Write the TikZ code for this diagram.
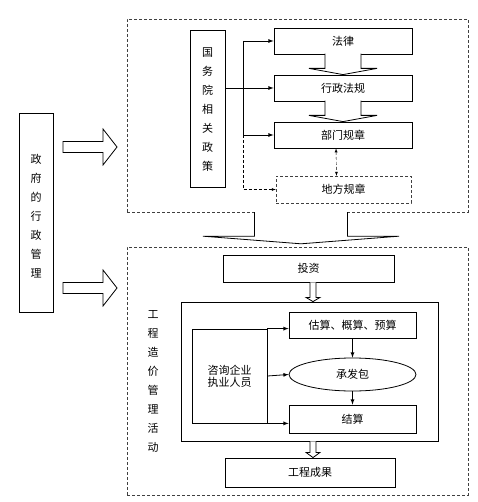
\documentclass[tikz,border=0pt]{standalone}
\usepackage{fontspec}
\newfontfamily\cjk{Noto Sans CJK SC}
\usetikzlibrary{calc,positioning,shapes.geometric,arrows}
\tikzset{>=latex}
\tikzset{
  box/.style={draw, thick, rectangle, inner sep=0pt, font=\cjk\fontsize{11}{12}\selectfont},
  dbox/.style={box, dash pattern=on 3pt off 2pt, thin, draw=black!75},
  vtext/.style={inner sep=0pt, align=center, font=\cjk\fontsize{11}{19}\selectfont},
  hollow/.style={draw, thick, fill=white, line join=miter},
}

\begin{document}
\begin{tikzpicture}[x=1pt, y=-1pt]
  \useasboundingbox (0,0) rectangle (477,502);
  % left column
  \node[box, minimum width=34pt, minimum height=199pt] (gov) at (36,212.5) {};
  \node[vtext] (govtxt) at (36,216) {政\\府\\的\\行\\政\\管\\理};
  % upper block: laws and rules
  \node[dbox, minimum width=341pt, minimum height=193pt] (top) at (297.5,115.5) {};
  \node[box, minimum width=35pt, minimum height=157pt] (gwy) at (207.5,108.5) {};
  \node[vtext] (gwytxt) at (207.5,110) {国\\务\\院\\相\\关\\政\\策};
  \node[box, minimum width=138pt, minimum height=26pt] (law) at (343,41) {法律};
  \node[box, minimum width=138pt, minimum height=26pt] (reg) at (343,88) {行政法规};
  \node[box, minimum width=138pt, minimum height=26pt] (dept) at (343,135) {部门规章};
  \node[dbox, minimum width=135pt, minimum height=27pt] (local) at (343.5,189.5) {地方规章};
  % block arrows between the levels
  \filldraw[hollow] ($(law.south)+(-18,-0.8)$) -- ($(law.south)+(-18,14)$) -- ($(law.south)+(-34,14)$)
    -- (reg.north) -- ($(law.south)+(34,14)$) -- ($(law.south)+(18,14)$) -- ($(law.south)+(18,-0.8)$);
  \filldraw[hollow] ($(reg.south)+(-18,-0.8)$) -- ($(reg.south)+(-18,14)$) -- ($(reg.south)+(-34,14)$)
    -- (dept.north) -- ($(reg.south)+(34,14)$) -- ($(reg.south)+(18,14)$) -- ($(reg.south)+(18,-0.8)$);
  % branches from the State Council box
  \coordinate (bus) at (243,88);
  \draw[thick] (bus |- law.west) -- (bus |- dept.west);
  \draw[thick,->] (gwy.east |- reg.west) -- (reg.west);
  \draw[thick,->] (bus |- law.west) -- (law.west);
  \draw[thick,->] (bus |- dept.west) -- (dept.west);
  \draw[thin,dash pattern=on 3pt off 2pt,->] (bus |- dept.west) -- (bus |- local.west) -- (local.west);
  \draw[thin,dash pattern=on 3pt off 2pt,<->] ([xshift=-7pt]dept.south) -- ([xshift=-7pt]local.north);

  % lower block: cost management activities
  \node[dbox, minimum width=341pt, minimum height=248pt] (act) at (297.5,371) {};
  \node[vtext] (acttxt) at (153,381.5) {工\\程\\造\\价\\管\\理\\活\\动};
  \node[box, minimum width=171pt, minimum height=27pt] (invest) at (308.5,268.5) {投资};
  \node[box, minimum width=257pt, minimum height=139pt] (inner) at (309.5,371.5) {};
  \node[box, minimum width=127pt, minimum height=26pt] (est) at (352.5,325) {估算、概算、预算};
  \node[box, ellipse, minimum width=127pt, minimum height=33pt] (contract) at (352.5,374.5) {承发包};
  \node[box, minimum width=127pt, minimum height=28pt] (settle) at (352.5,419) {结算};
  \node[box, minimum width=75pt, minimum height=94pt, align=center] (consult) at (229.5,376) {咨询企业\\执业人员};
  \node[box, minimum width=170pt, minimum height=29pt] (result) at (310,472.5) {工程成果};
  \draw[thick,->] (consult.north east) -- (consult.north east -| est.west);
  \draw[thick,->] (consult.east) -- (contract.west);
  \draw[thick,->] (consult.south east) -- (consult.south east -| settle.west);
  \draw[thick,->] (est) -- (contract);
  \draw[thick,->] (contract) -- (settle);

  % small hollow arrows
  \coordinate (t1) at (313,0);
  \filldraw[hollow] (t1 |- invest.south) ++(-3,0) -- ++(0,15) -- ++(-4,0) -- (t1 |- inner.north)
    -- ($(t1 |- invest.south)+(7,15)$) -- ++(-4,0) -- ++(0,-15);
  \filldraw[hollow] (t1 |- inner.south) ++(-3,0) -- ++(0,11) -- ++(-4,0) -- (t1 |- result.north)
    -- ($(t1 |- inner.south)+(7,11)$) -- ++(-4,0) -- ++(0,-11);

  % big arrow from upper block to lower block
  \coordinate (t2) at (301,0);
  \filldraw[hollow] ($(t2 |- top.south)+(-46.5,0)$) -- ++(0,24) -- ++(-51.5,0) -- ($(t2 |- act.north)+(0,-3)$)
    -- ($(t2 |- top.south)+(98,24)$) -- ++(-51.5,0) -- ++(0,-24);

  % hollow arrows from the government box
  \coordinate (a1) at (63,147);
  \coordinate (a2) at (63,288);
  \filldraw[hollow] (a1) ++(0,-5.5) -- ++(40,0) -- ++(0,-12.5) -- ++(14,18) -- ++(-14,18)
    -- ++(0,-12.5) -- ++(-40,0) -- cycle;
  \filldraw[hollow] (a2) ++(0,-5.5) -- ++(40,0) -- ++(0,-12.5) -- ++(14,18) -- ++(-14,18)
    -- ++(0,-12.5) -- ++(-40,0) -- cycle;
\end{tikzpicture}
\end{document}
